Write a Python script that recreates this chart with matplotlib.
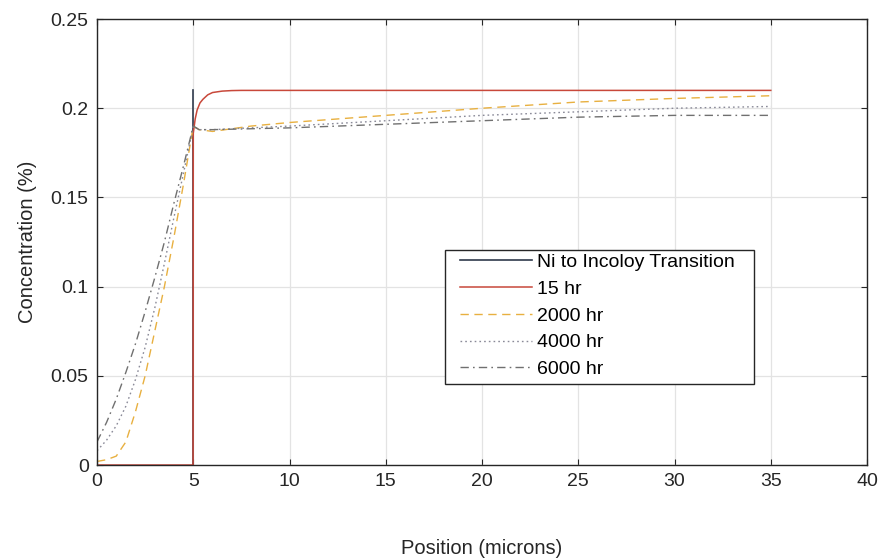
import matplotlib
matplotlib.use("Agg")
import matplotlib.pyplot as plt
from matplotlib.patches import Rectangle

plt.rcParams['font.family'] = ['Liberation Sans', 'DejaVu Sans']

# --- data ---
transition_x = [5, 5]
transition_y = [0, 0.21]

hr15_x = [0, 4.99, 5.0, 5.1, 5.2, 5.35, 5.5, 5.75, 6.0, 6.5, 7.0, 7.5, 8.0, 35]
hr15_y = [0, 0, 0.186, 0.194, 0.199, 0.203, 0.205, 0.2075, 0.2088, 0.2096, 0.2099, 0.21, 0.21, 0.21]

hr2000_x = [0, 0.5, 1, 1.5, 2, 2.5, 3, 3.5, 4, 4.5, 5, 5.3, 6, 8, 10, 15, 20, 25, 30, 35]
hr2000_y = [0.002, 0.003, 0.005, 0.013, 0.03, 0.05, 0.075, 0.1, 0.128, 0.158, 0.19,
            0.188, 0.187, 0.19, 0.192, 0.196, 0.2, 0.2035, 0.2055, 0.207]

hr4000_x = [0, 0.5, 1, 1.5, 2, 2.5, 3, 3.5, 4, 4.5, 5, 5.3, 6, 8, 10, 15, 20, 25, 30, 35]
hr4000_y = [0.008, 0.014, 0.022, 0.033, 0.048, 0.066, 0.088, 0.113, 0.139, 0.164, 0.19,
            0.188, 0.188, 0.189, 0.19, 0.193, 0.196, 0.198, 0.2, 0.201]

hr6000_x = [0, 0.5, 1, 1.5, 2, 2.5, 3, 3.5, 4, 4.5, 5, 5.3, 6, 10, 15, 20, 25, 30, 35]
hr6000_y = [0.013, 0.024, 0.037, 0.052, 0.068, 0.086, 0.105, 0.125, 0.147, 0.168, 0.19,
            0.188, 0.188, 0.189, 0.191, 0.193, 0.195, 0.196, 0.196]

labels = ['Ni to Incoloy Transition', '15 hr', '2000 hr', '4000 hr', '6000 hr']
xticks = [0, 5, 10, 15, 20, 25, 30, 35, 40]
yticks = [0, 0.05, 0.1, 0.15, 0.2, 0.25]
ytick_labels = ['0', '0.05', '0.1', '0.15', '0.2', '0.25']

fig = plt.figure(figsize=(8.86, 5.6), dpi=100)
ax = fig.add_axes([0.1095, 0.1696, 0.8691, 0.7964])

ax.plot(transition_x, transition_y, color='#2f3a4c', lw=1.2, label=labels[0])
ax.plot(hr15_x, hr15_y, color='#c8483a', lw=1.1, label=labels[1])
ax.plot(hr2000_x, hr2000_y, color='#e8b040', lw=1.0, ls=(0, (6, 4)), label=labels[2])
ax.plot(hr4000_x, hr4000_y, color='#8a8a98', lw=1.0, ls=(0, (1.2, 2.2)), label=labels[3])
ax.plot(hr6000_x, hr6000_y, color='#707070', lw=1.0, ls=(0, (6, 3, 1.2, 3)), label=labels[4])

ax.set_xlim(0, 40)
ax.set_ylim(0, 0.25)
ax.set_xticks(xticks)
ax.set_xticklabels([str(t) for t in xticks])
ax.set_yticks(yticks)
ax.set_yticklabels(ytick_labels)
ax.grid(True, color='#e3e3e3', lw=0.9)
ax.set_axisbelow(True)
ax.tick_params(direction='in', length=4, labelsize=14, colors='#262626', top=True, right=True,
               labeltop=False, labelright=False, pad=6)
for s in ax.spines.values():
    s.set_color('#262626')
    s.set_linewidth(1.0)

ax.set_xlabel('Position (microns)', fontsize=14.5, color='#262626', labelpad=35)
ax.set_ylabel('Concentration (%)', fontsize=14.5, color='#262626', labelpad=10)

# legend frame
frame = Rectangle((0.452, 0.1816), 0.401, 0.3004, transform=ax.transAxes,
                  facecolor='white', edgecolor='#262626', lw=1.0, zorder=4.9)
ax.add_patch(frame)

leg = ax.legend(loc='upper left', bbox_to_anchor=(0.4714, 0.474), frameon=False,
                fontsize=14, handlelength=3.7, handletextpad=0.26, labelspacing=0.47,
                borderpad=0, borderaxespad=0)
leg.set_zorder(5)

fig.savefig('out.png', dpi=100)
